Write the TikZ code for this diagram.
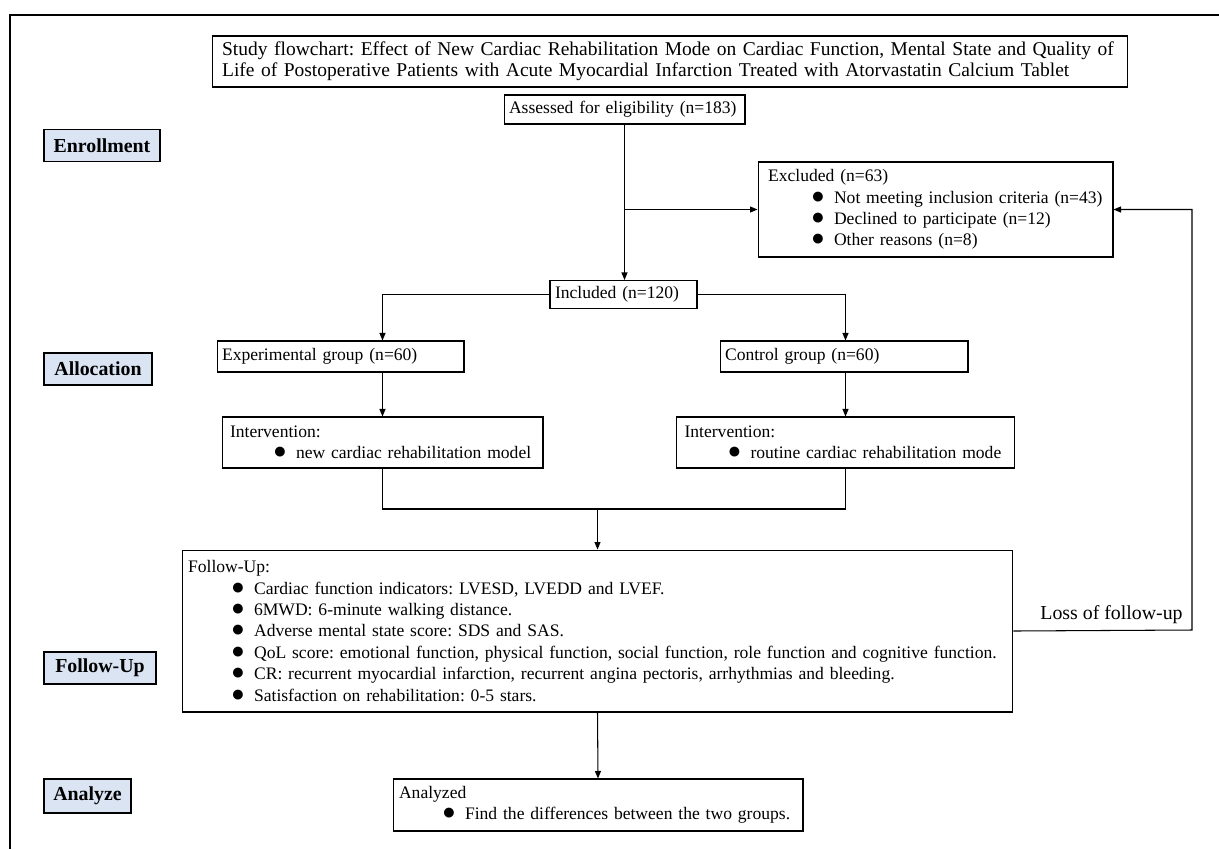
\documentclass[tikz,border=0pt]{standalone}
\usepackage{fontspec}
\setmainfont{Liberation Serif}
\usetikzlibrary{positioning,arrows.meta,calc}
\definecolor{stagefill}{RGB}{218,228,243}
\newcommand{\blt}{\\\hspace*{0.86cm}\makebox[0.46cm][l]{\fontsize{13}{12}\selectfont●}}
\frenchspacing

\begin{document}
\begin{tikzpicture}[x=0.02cm,y=-0.02cm,
  box/.style={draw,line width=0.6pt,align=left,inner xsep=0.2cm,inner ysep=0pt,font=\fontsize{10}{12.2}\selectfont},
  stage/.style={draw,line width=0.6pt,fill=stagefill,inner sep=0pt,font=\fontsize{11.3}{13}\selectfont\bfseries},
  arr/.style={-{Triangle[length=1.5mm,width=1.2mm]},line width=0.6pt},
  line/.style={line width=0.6pt}]
\useasboundingbox (0,0) rectangle (1219,849);
% Outer frame
\draw[line width=1pt] (10,849) -- (10,15) -- (1219,15);

% Stage labels
\node[stage,minimum width=2.32cm,minimum height=0.64cm] (enroll) at (102,145.5) {Enrollment};
\node[stage,minimum width=2.16cm,minimum height=0.64cm] (alloc) at (98,369) {Allocation};
\node[stage,minimum width=2.24cm,minimum height=0.64cm] (fupst) at (100,668) {Follow-Up};
\node[stage,minimum width=1.74cm,minimum height=0.68cm] (anlst) at (87.5,796) {Analyze};

% Title
\node[box,text width=17.92cm,minimum height=1.02cm,font=\fontsize{11.1}{12}\selectfont] (title) at (670,61.5) {Study flowchart: Effect of New Cardiac Rehabilitation Mode on Cardiac Function, Mental State and Quality of\\Life of Postoperative Patients with Acute Myocardial Infarction Treated with Atorvastatin Calcium Tablet};

% Enrollment
\node[box,inner xsep=0.1cm,text width=4.62cm,minimum height=0.58cm] (assess) at (624.5,109.5) {Assessed for eligibility (n=183)};
\node[box,text width=6.7cm,minimum height=1.9cm] (excl) at (935.5,209.5) {Excluded (n=63)%
  \blt Not meeting inclusion criteria (n=43)%
  \blt Declined to participate (n=12)%
  \blt Other reasons (n=8)};
\node[box,inner xsep=0.1cm,text width=2.74cm,minimum height=0.56cm] (incl) at (623.5,294.5) {Included (n=120)};

% Allocation
\node[box,inner xsep=0.1cm,text width=4.74cm,minimum height=0.62cm] (expg) at (340.5,356.5) {Experimental group (n=60)};
\node[box,inner xsep=0.1cm,text width=4.76cm,minimum height=0.62cm] (ctrl) at (844,356.5) {Control group (n=60)};
\node[box,inner xsep=0.16cm,text width=6.1cm,minimum height=1.02cm] (expi) at (382.5,442.5) {Intervention:%
  \blt new cardiac rehabilitation model};
\node[box,inner xsep=0.16cm,text width=6.44cm,minimum height=1.02cm] (ctrli) at (845.5,442.5) {Intervention:%
  \blt routine cardiac rehabilitation mode};

% Follow-up
\node[box,inner xsep=0.12cm,text width=16.38cm,minimum height=3.24cm] (fup) at (597.5,631) {Follow-Up:%
  \blt Cardiac function indicators: LVESD, LVEDD and LVEF.%
  \blt 6MWD: 6-minute walking distance.%
  \blt Adverse mental state score: SDS and SAS.%
  \blt QoL score: emotional function, physical function, social function, role function and cognitive function.%
  \blt CR: recurrent myocardial infarction, recurrent angina pectoris, arrhythmias and bleeding.%
  \blt Satisfaction on rehabilitation: 0-5 stars.};

% Analyze
\node[box,inner xsep=0.12cm,text width=7.96cm,minimum height=1.04cm] (anl) at (598,805) {Analyzed%
  \blt Find the differences between the two groups.};

% Connectors
\draw[arr] (assess.south) -- (assess.south |- incl.north);
\draw[arr] (assess.south |- excl.west) -- (excl.west);
\draw[arr] (incl.west) -| (expi.north |- expg.north);
\draw[arr] (incl.east) -| (ctrli.north |- ctrl.north);
\draw[arr] (expi.north |- expg.south) -- (expi.north);
\draw[arr] (ctrli.north |- ctrl.south) -- (ctrli.north);
\coordinate (mrg) at (597.5,509);
\draw[line] (expi.south) |- (mrg) -| (ctrli.south);
\draw[arr] (mrg) -- (fup.north);
\draw[arr] (fup.south) -- (anl.north);
\coordinate (lossc) at (1192,630);
\draw[arr] (fup.east) -- (lossc) |- (excl.east);
\node[anchor=south east,inner xsep=0.18cm,inner ysep=0.12cm,font=\fontsize{11.3}{12}\selectfont] (losslbl) at (lossc) {Loss of follow-up};
\end{tikzpicture}
\end{document}
